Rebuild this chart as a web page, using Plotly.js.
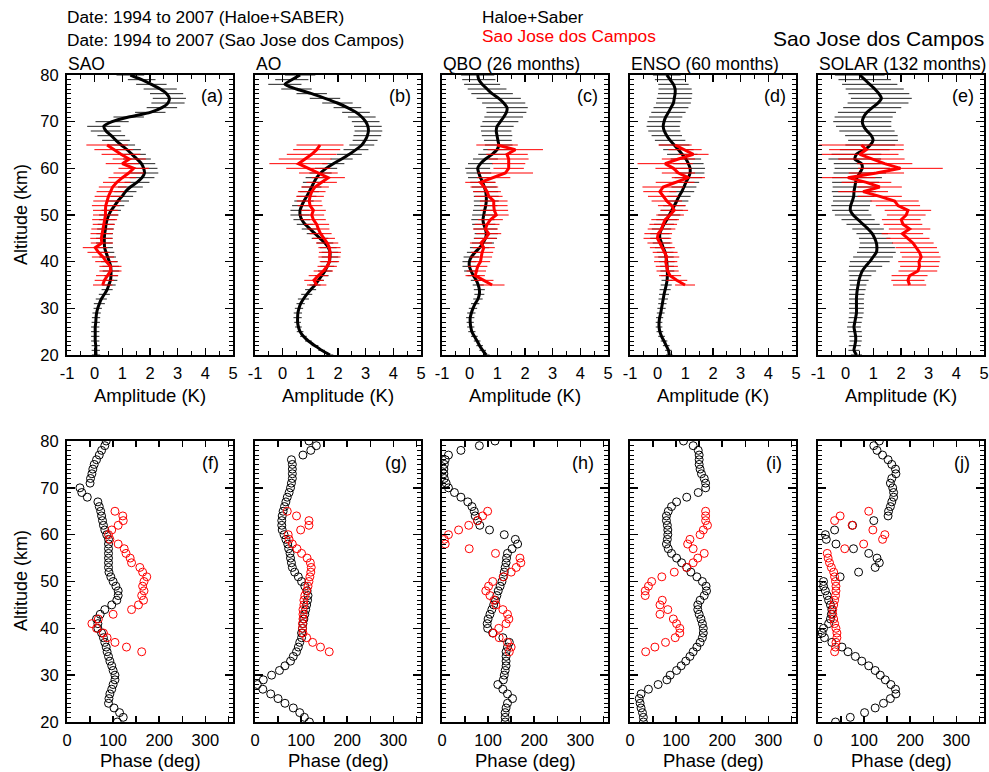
<!DOCTYPE html>
<html><head><meta charset="utf-8">
<script src="https://cdn.plot.ly/plotly-3.0.1.min.js"></script>
<style>html,body{margin:0;padding:0;background:#fff}#plot{width:989px;height:772px}</style>
</head><body><div id="plot"></div>
<script>
// ---------------- DATA ----------------
const altHS = [80,79,78,77,76,75,74,73,72,71,70,69,68,67,66,65,64,63,62,61,60,59,58,57,56,55,54,53,52,51,50,49,48,47,46,45,44,43,42,41,40,39,38,37,36,35,34,33,32,31,30,29,28,27,26,25,24,23,22,21,20];
const altSJ = [65,64,63,62,61,60,59,58,57,56,55,54,53,52,51,50,49,48,47,46,45,44,43,42,41,40,39,38,37,36,35];

const panelTitles = ['SAO','AO','QBO (26 months)','ENSO (60 months)','SOLAR (132 months)'];
const topLabels = ['(a)','(b)','(c)','(d)','(e)'];
const botLabels = ['(f)','(g)','(h)','(i)','(j)'];

// Amplitudes (K), Haloe+Saber
const ampSAO_hs = [1.29,1.7,2.05,2.37,2.6,2.7,2.65,2.43,2.01,1.23,0.63,0.33,0.41,0.6,0.77,0.96,1.17,1.35,1.53,1.69,1.77,1.8,1.71,1.53,1.29,1.11,0.99,0.84,0.72,0.6,0.51,0.45,0.41,0.39,0.36,0.35,0.35,0.36,0.41,0.47,0.53,0.58,0.59,0.59,0.57,0.51,0.45,0.35,0.24,0.17,0.11,0.07,0.05,0.04,0.02,0.02,0.02,0.02,0.04,0.04,0.05];
const errSAO_hs = [0.5,0.5,0.55,0.6,0.6,0.6,0.6,0.55,0.55,0.55,0.6,0.6,0.55,0.5,0.5,0.5,0.5,0.5,0.5,0.5,0.5,0.5,0.45,0.45,0.45,0.4,0.4,0.4,0.35,0.35,0.35,0.3,0.3,0.3,0.3,0.3,0.3,0.3,0.3,0.3,0.3,0.3,0.3,0.25,0.25,0.25,0.2,0.2,0.2,0.2,0.15,0.15,0.15,0.15,0.15,0.15,0.15,0.15,0.15,0.15,0.15];
const ampAO_hs = [0.63,0.33,0.08,0.5,1.05,1.53,1.98,2.34,2.65,2.86,3.0,3.08,3.1,3.06,2.98,2.86,2.65,2.41,2.13,1.83,1.57,1.37,1.23,1.13,1.05,0.96,0.87,0.77,0.69,0.63,0.63,0.69,0.81,0.99,1.17,1.35,1.53,1.65,1.71,1.71,1.69,1.61,1.53,1.41,1.29,1.17,1.01,0.87,0.75,0.65,0.59,0.55,0.54,0.54,0.57,0.63,0.75,0.93,1.17,1.41,1.71];
const errAO_hs = [0.55,0.6,0.6,0.55,0.55,0.55,0.55,0.5,0.5,0.5,0.5,0.5,0.5,0.5,0.45,0.45,0.45,0.45,0.4,0.4,0.4,0.4,0.4,0.4,0.35,0.35,0.35,0.35,0.35,0.35,0.35,0.3,0.3,0.3,0.3,0.3,0.3,0.3,0.3,0.3,0.3,0.25,0.25,0.25,0.2,0.2,0.2,0.2,0.2,0.15,0.15,0.15,0.15,0.12,0.12,0.12,0.12,0.12,0.12,0.12,0.12];
const ampQBO_hs = [0.29,0.33,0.45,0.63,0.81,1.05,1.23,1.35,1.33,1.23,1.11,0.99,0.96,0.99,1.02,1.05,0.99,0.81,0.57,0.39,0.29,0.33,0.39,0.47,0.53,0.58,0.6,0.6,0.58,0.54,0.51,0.48,0.51,0.57,0.6,0.57,0.48,0.36,0.2,0.06,-0.01,-0.01,0.05,0.14,0.24,0.31,0.35,0.35,0.3,0.2,0.12,0.06,0.02,0.02,0.04,0.08,0.17,0.27,0.36,0.47,0.6];
const errQBO_hs = [0.6,0.6,0.65,0.7,0.75,0.8,0.78,0.75,0.72,0.7,0.65,0.6,0.55,0.55,0.5,0.5,0.5,0.5,0.45,0.45,0.45,0.45,0.45,0.45,0.45,0.45,0.45,0.45,0.42,0.42,0.42,0.42,0.42,0.42,0.42,0.42,0.4,0.35,0.3,0.28,0.25,0.25,0.25,0.22,0.2,0.2,0.2,0.18,0.17,0.15,0.15,0.15,0.15,0.13,0.13,0.13,0.12,0.12,0.12,0.12,0.12];
const ampENSO_hs = [0.33,0.45,0.57,0.63,0.63,0.6,0.57,0.48,0.39,0.29,0.23,0.2,0.24,0.33,0.45,0.6,0.75,0.89,1.02,1.11,1.17,1.17,1.11,1.02,0.95,0.87,0.77,0.69,0.6,0.51,0.42,0.33,0.23,0.14,0.08,0.08,0.14,0.2,0.27,0.3,0.33,0.34,0.35,0.35,0.34,0.31,0.27,0.23,0.2,0.17,0.14,0.11,0.07,0.05,0.05,0.08,0.14,0.23,0.31,0.39,0.42];
const errENSO_hs = [0.5,0.55,0.55,0.6,0.62,0.63,0.63,0.63,0.62,0.6,0.6,0.6,0.58,0.55,0.55,0.55,0.55,0.55,0.55,0.55,0.54,0.52,0.5,0.48,0.45,0.45,0.42,0.42,0.4,0.4,0.4,0.38,0.36,0.35,0.35,0.35,0.32,0.3,0.3,0.28,0.28,0.25,0.25,0.22,0.2,0.2,0.2,0.18,0.17,0.15,0.15,0.14,0.13,0.12,0.12,0.12,0.12,0.12,0.12,0.12,0.12];
const ampSOLAR_hs = [0.51,0.69,0.87,1.05,1.2,1.29,1.17,0.96,0.77,0.65,0.6,0.65,0.77,0.93,0.99,0.89,0.69,0.39,0.33,0.57,0.6,0.51,0.41,0.36,0.33,0.3,0.29,0.24,0.18,0.17,0.27,0.45,0.63,0.81,0.96,1.05,1.11,1.13,1.11,0.99,0.87,0.72,0.6,0.53,0.48,0.45,0.42,0.4,0.39,0.39,0.39,0.39,0.36,0.33,0.3,0.33,0.36,0.36,0.33,0.3,0.39];
const errSOLAR_hs = [0.9,0.95,1.0,1.05,1.1,1.1,1.1,1.05,1.05,1.05,1.05,1.0,1.0,0.95,0.9,0.9,0.9,0.9,0.95,1.0,1.0,0.95,0.9,0.85,0.8,0.8,0.75,0.7,0.7,0.66,0.66,0.6,0.6,0.57,0.57,0.57,0.6,0.65,0.7,0.72,0.72,0.6,0.5,0.4,0.35,0.3,0.3,0.28,0.27,0.27,0.27,0.26,0.25,0.25,0.25,0.25,0.23,0.22,0.22,0.2,0.2];

// Amplitudes (K), Sao Jose dos Campos
const ampSAO_sj = [0.45,0.69,0.95,1.25,1.0,1.41,1.23,1.0,0.8,0.65,0.57,0.5,0.45,0.4,0.39,0.39,0.36,0.33,0.28,0.25,0.24,0.26,0.02,0.14,0.3,0.42,0.57,0.57,0.45,0.35,0.29];
const errSAO_sj = [0.75,0.7,0.7,0.6,0.6,0.55,0.55,0.5,0.5,0.5,0.5,0.5,0.5,0.5,0.45,0.45,0.45,0.4,0.4,0.4,0.4,0.4,0.45,0.4,0.4,0.4,0.4,0.4,0.4,0.35,0.35];
const ampAO_sj = [1.35,1.23,1.05,0.81,0.57,0.93,1.29,1.65,1.41,1.17,1.05,0.99,0.96,0.99,1.11,1.05,1.11,1.23,1.29,1.37,1.49,1.61,1.69,1.71,1.69,1.69,1.61,1.47,1.29,1.13,1.23];
const errAO_sj = [0.85,0.85,0.9,0.95,1.05,0.8,0.7,0.6,0.55,0.5,0.5,0.5,0.45,0.45,0.45,0.45,0.45,0.45,0.4,0.4,0.4,0.4,0.4,0.4,0.4,0.35,0.35,0.35,0.35,0.35,0.35];
const ampQBO_sj = [0.99,1.65,1.35,1.41,1.41,1.41,1.29,0.87,0.39,0.53,0.63,0.69,0.87,0.87,0.89,0.96,0.75,0.63,0.57,0.69,0.57,0.41,0.51,0.45,0.41,0.39,0.29,0.24,0.2,0.51,0.81];
const errQBO_sj = [0.75,1.0,0.75,0.72,0.6,0.55,1.0,0.6,0.55,0.5,0.5,0.5,0.5,0.5,0.5,0.45,0.45,0.45,0.45,0.45,0.4,0.4,0.4,0.4,0.4,0.35,0.35,0.35,0.35,0.35,0.45];
const ampENSO_sj = [0.63,0.99,1.29,0.75,0.27,0.57,0.75,1.11,0.63,0.2,0.08,0.2,0.33,0.51,0.6,0.45,0.27,0.2,0.14,0.02,-0.01,0.08,0.17,0.27,0.33,0.29,0.33,0.36,0.45,0.69,0.99];
const errENSO_sj = [0.6,0.6,0.55,0.6,1.0,0.65,0.6,0.6,0.7,0.75,0.6,0.55,0.55,0.5,0.5,0.5,0.5,0.5,0.5,0.5,0.5,0.45,0.45,0.45,0.45,0.42,0.4,0.4,0.4,0.38,0.36];
const ampSOLAR_sj = [0.57,0.75,0.51,0.93,1.41,1.98,1.11,0.08,0.75,1.23,0.63,1.23,1.77,1.89,2.25,2.19,2.01,2.07,2.31,2.05,2.25,2.43,2.55,2.67,2.73,2.65,2.67,2.61,2.31,2.25,2.31];
const errSOLAR_sj = [1.53,1.35,1.4,1.2,1.0,1.53,1.0,1.0,0.9,0.8,0.9,0.8,0.87,0.8,0.84,0.7,0.7,0.7,0.75,0.75,0.78,0.75,0.75,0.7,0.7,0.75,0.7,0.7,0.65,0.6,0.6];

// Phases (deg), Haloe+Saber
const phSAO_hs = [85,82,75,70,64,59,56,54,51,50,28,32,44,67,70,73,75,77,79,82,86,90,90,90,90,90,90,90,91,95,100,106,111,111,108,97,82,72,64,67,67,75,79,82,85,87,90,93,97,100,104,104,100,97,93,91,90,102,114,122,109];
const phAO_hs = [117,133,121,104,79,81,81,81,81,79,77,74,70,67,64,61,59,58,58,59,63,67,71,73,76,77,79,81,86,94,101,108,113,115,114,112,110,108,106,104,103,101,101,97,94,90,83,77,65,53,36,18,5,17,34,50,65,83,97,107,118];
const phQBO_hs = [115,81,41,14,7,5,4,4,5,9,14,27,41,56,65,70,72,77,82,103,135,159,164,152,142,140,139,137,135,133,130,126,122,119,116,112,108,104,100,98,99,110,132,146,142,139,139,139,139,137,135,133,121,132,142,153,142,139,137,137,137];
const phENSO_hs = [116,137,148,150,150,150,152,155,161,164,164,148,123,101,90,83,79,79,81,82,82,81,79,83,90,101,112,123,132,145,157,165,166,161,152,147,147,150,154,157,159,159,157,152,145,137,130,121,111,101,87,80,61,40,24,20,22,24,27,29,29];
const phSOLAR_hs = [133,121,128,140,152,160,168,169,160,157,162,164,164,160,157,153,152,121,75,36,16,18,39,77,110,128,133,124,88,48,12,12,16,20,23,27,30,29,27,23,12,9,14,30,52,65,81,95,110,124,135,146,158,168,169,157,142,124,101,70,38];

// Phases (deg), Sao Jose dos Campos
const phSAO_sj = [104,121,122,111,97,90,93,111,124,128,137,140,158,164,173,167,164,167,162,166,155,140,100,68,54,64,79,87,104,129,162];
const phAO_sj = [70,90,117,117,99,72,74,81,91,101,113,120,122,121,119,117,115,112,108,106,106,104,104,104,103,103,104,112,125,142,161];
const phQBO_sj = [99,88,77,58,36,14,5,7,59,116,169,171,161,150,133,110,101,95,104,113,117,132,142,145,139,123,111,124,142,150,146];
const phENSO_sj = [164,164,164,168,159,152,130,125,137,161,147,137,123,96,69,47,40,33,33,70,65,82,65,94,101,108,108,98,77,54,34];
const phSOLAR_sj = [110,48,36,74,119,145,140,99,58,20,22,25,29,34,36,38,39,39,38,36,34,32,32,34,36,39,41,41,39,38,36];

const ampHS = [ampSAO_hs, ampAO_hs, ampQBO_hs, ampENSO_hs, ampSOLAR_hs];
const ampHSerr = [errSAO_hs, errAO_hs, errQBO_hs, errENSO_hs, errSOLAR_hs];
const ampSJ = [ampSAO_sj, ampAO_sj, ampQBO_sj, ampENSO_sj, ampSOLAR_sj];
const ampSJerr = [errSAO_sj, errAO_sj, errQBO_sj, errENSO_sj, errSOLAR_sj];
const phHS = [phSAO_hs, phAO_hs, phQBO_hs, phENSO_hs, phSOLAR_hs];
const phSJ = [phSAO_sj, phAO_sj, phQBO_sj, phENSO_sj, phSOLAR_sj];

const ampTickVals = [-1,0,1,2,3,4,5];
const ampTickText = ['-1','0','1','2','3','4','5'];
const phaseTickVals = [0,50,100,150,200,250,300,350];
const phaseTickText = ['0','','100','','200','','300',''];
const altTicks = [20,30,40,50,60,70,80];

// ---------------- LAYOUT ----------------
const W = 989, H = 772;
const FONT = 'Liberation Sans, Arial, Helvetica, sans-serif';
const lefts = [67, 255, 442, 630, 818];
const pw = 166;
const topRow = [75, 355], botRow = [441, 722];
const fx = v => v / W, fy = v => 1 - v / H;

const traces = [];
const layout = {
  width: W, height: H, margin: {l:0, r:0, t:0, b:0},
  paper_bgcolor: '#fff', plot_bgcolor: '#fff', showlegend: false,
  font: {family: FONT, size: 16, color: '#000'},
  annotations: []
};

function axisCommon() {
  return {
    showline: true, linecolor: '#000', linewidth: 2, mirror: 'allticks',
    ticks: 'inside', tickcolor: '#000', tickwidth: 1.5,
    showgrid: false, zeroline: false, fixedrange: true,
    tickfont: {family: FONT, size: 16.5, color: '#000'}
  };
}

for (let i = 0; i < 5; i++) {
  const nTop = i + 1, nBot = i + 6;
  const kx = n => n === 1 ? 'xaxis' : 'xaxis' + n;
  const ky = n => n === 1 ? 'yaxis' : 'yaxis' + n;
  const rx = n => n === 1 ? 'x' : 'x' + n;
  const ry = n => n === 1 ? 'y' : 'y' + n;
  const dom = [fx(lefts[i]), fx(lefts[i] + pw)];

  layout[kx(nTop)] = Object.assign(axisCommon(), {
    domain: dom, anchor: ry(nTop), range: [-1, 5], tickvals: ampTickVals, ticktext: ampTickText, ticklen: 7,
    minor: {dtick: 0.5, tick0: -1, ticklen: 4, tickwidth: 1, tickcolor: '#000', ticks: 'inside'},
    ticklabelstandoff: 2
  });
  layout[ky(nTop)] = Object.assign(axisCommon(), {
    domain: [fy(topRow[1]), fy(topRow[0])], anchor: rx(nTop), range: [20, 80], tickvals: altTicks, ticklen: 8,
    minor: {dtick: 1, tick0: 20, ticklen: 4, tickwidth: 1, tickcolor: '#000', ticks: 'inside'},
    showticklabels: i === 0, ticklabelstandoff: 3
  });
  layout[kx(nBot)] = Object.assign(axisCommon(), {
    domain: dom, anchor: ry(nBot), range: [0, 360], tickvals: phaseTickVals, ticktext: phaseTickText, ticklen: 6,
    ticklabelstandoff: 2
  });
  layout[ky(nBot)] = Object.assign(axisCommon(), {
    domain: [fy(botRow[1]), fy(botRow[0])], anchor: rx(nBot), range: [20, 80], tickvals: altTicks, ticklen: 8,
    minor: {dtick: 1, tick0: 20, ticklen: 4, tickwidth: 1, tickcolor: '#000', ticks: 'inside'},
    showticklabels: i === 0, ticklabelstandoff: 3
  });

  // amplitude: Haloe+Saber
  traces.push({
    type: 'scatter', mode: 'lines', x: ampHS[i], y: altHS, xaxis: rx(nTop), yaxis: ry(nTop),
    line: {color: '#000', width: 3, shape: 'spline', smoothing: 0.6},
    error_x: {type: 'data', array: ampHSerr[i], visible: true, color: '#222', thickness: 1, width: 0},
    hoverinfo: 'skip'
  });
  // amplitude: Sao Jose dos Campos
  traces.push({
    type: 'scatter', mode: 'lines', x: ampSJ[i], y: altSJ, xaxis: rx(nTop), yaxis: ry(nTop),
    line: {color: '#ff0000', width: 3},
    error_x: {type: 'data', array: ampSJerr[i], visible: true, color: '#ff0000', thickness: 1, width: 0},
    hoverinfo: 'skip'
  });
  // phase
  traces.push({
    type: 'scatter', mode: 'markers', x: phHS[i], y: altHS, xaxis: rx(nBot), yaxis: ry(nBot),
    marker: {symbol: 'circle-open', size: 8, color: '#000', line: {width: 1, color: '#000'}},
    hoverinfo: 'skip'
  });
  traces.push({
    type: 'scatter', mode: 'markers', x: phSJ[i], y: altSJ, xaxis: rx(nBot), yaxis: ry(nBot),
    marker: {symbol: 'circle-open', size: 8, color: '#ff0000', line: {width: 1, color: '#ff0000'}},
    hoverinfo: 'skip'
  });

  const A = layout.annotations;
  A.push({text: panelTitles[i], x: fx(lefts[i] - 1), y: fy(64), xref: 'paper', yref: 'paper', xanchor: 'left', yanchor: 'middle', showarrow: false, font: {size: 17.5}});
  A.push({text: topLabels[i], x: fx(lefts[i] + pw - 8), y: fy(96), xref: 'paper', yref: 'paper', xanchor: 'right', yanchor: 'middle', showarrow: false, font: {size: 18}});
  A.push({text: botLabels[i], x: fx(lefts[i] + pw - 12), y: fy(463), xref: 'paper', yref: 'paper', xanchor: 'right', yanchor: 'middle', showarrow: false, font: {size: 18}});
  A.push({text: 'Amplitude (K)', x: fx(lefts[i] + pw / 2), y: fy(395), xref: 'paper', yref: 'paper', xanchor: 'center', yanchor: 'middle', showarrow: false, font: {size: 18.5}});
  A.push({text: 'Phase (deg)', x: fx(lefts[i] + pw / 2), y: fy(760), xref: 'paper', yref: 'paper', xanchor: 'center', yanchor: 'middle', showarrow: false, font: {size: 18.5}});
}

const A = layout.annotations;
A.push({text: 'Altitude (km)', x: fx(21), y: fy(215), xref: 'paper', yref: 'paper', xanchor: 'center', yanchor: 'middle', textangle: -90, showarrow: false, font: {size: 18}});
A.push({text: 'Altitude (km)', x: fx(21), y: fy(581), xref: 'paper', yref: 'paper', xanchor: 'center', yanchor: 'middle', textangle: -90, showarrow: false, font: {size: 18}});
A.push({text: 'Date: 1994 to 2007 (Haloe+SABER)', x: fx(65), y: fy(17), xref: 'paper', yref: 'paper', xanchor: 'left', yanchor: 'middle', showarrow: false, font: {size: 17.3}});
A.push({text: 'Date: 1994 to 2007 (Sao Jose dos Campos)', x: fx(65), y: fy(40), xref: 'paper', yref: 'paper', xanchor: 'left', yanchor: 'middle', showarrow: false, font: {size: 17.3}});
A.push({text: 'Haloe+Saber', x: fx(480), y: fy(17), xref: 'paper', yref: 'paper', xanchor: 'left', yanchor: 'middle', showarrow: false, font: {size: 17.3, color: '#000'}});
A.push({text: 'Sao Jose dos Campos', x: fx(480), y: fy(36), xref: 'paper', yref: 'paper', xanchor: 'left', yanchor: 'middle', showarrow: false, font: {size: 17.3, color: '#ff0000'}});
A.push({text: 'Sao Jose dos Campos', x: fx(986), y: fy(39), xref: 'paper', yref: 'paper', xanchor: 'right', yanchor: 'middle', showarrow: false, font: {size: 21}});

Plotly.newPlot('plot', traces, layout, {staticPlot: true, displayModeBar: false});
</script>
</body></html>
